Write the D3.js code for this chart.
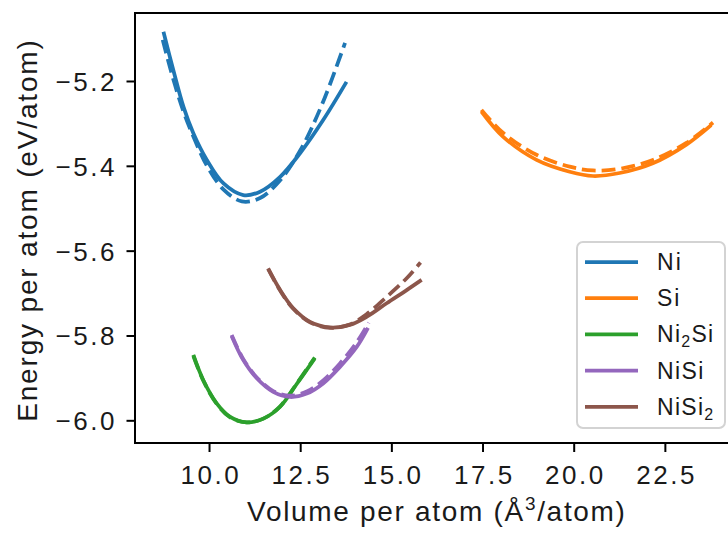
<!DOCTYPE html>
<html>
<head>
<meta charset="utf-8">
<script src="https://cdn.jsdelivr.net/npm/d3@7"></script>
<style>
  html, body { margin: 0; padding: 0; background: #fff; }
  svg { display: block; }
  text { font-family: "Liberation Sans", Arial, sans-serif; fill: #1a1a1a; }
</style>
</head>
<body>
<svg id="chart" width="728" height="533"></svg>
<script>
// ---- Data ----
const materials = ["Ni", "Si", "Ni2Si", "NiSi", "NiSi2"];
const colors = ["#1f77b4", "#ff7f0e", "#2ca02c", "#9467bd", "#8c564b"];

// solid curves
const niV   = [8.75, 9.02, 9.30, 9.57, 9.94, 10.39, 10.94, 11.40, 11.95, 12.49, 13.13, 13.77];
const niE   = [-5.084, -5.174, -5.261, -5.323, -5.386, -5.441, -5.469, -5.461, -5.426, -5.371, -5.292, -5.202];
const siV   = [17.47, 18.06, 18.98, 19.89, 20.53, 21.26, 22.17, 23.09, 23.77];
const siE   = [-5.272, -5.331, -5.386, -5.414, -5.424, -5.417, -5.394, -5.350, -5.304];
const ni2siV = [9.57, 9.84, 10.21, 10.58, 11.03, 11.49, 11.95, 12.40, 12.90];
const ni2siE = [-5.846, -5.905, -5.960, -5.992, -6.005, -5.996, -5.968, -5.915, -5.854];
const nisiV = [10.62, 10.94, 11.31, 11.76, 12.22, 12.68, 13.13, 13.59, 14.05, 14.36];
const nisiE = [-5.801, -5.858, -5.901, -5.933, -5.945, -5.937, -5.913, -5.874, -5.827, -5.782];
const nisi2V = [11.62, 11.95, 12.31, 12.77, 13.32, 13.86, 14.32, 14.87, 15.42, 15.83];
const nisi2E = [-5.642, -5.693, -5.736, -5.768, -5.781, -5.775, -5.756, -5.724, -5.693, -5.669];

// dashed curves
const niVd   = [8.73, 9.0, 9.3, 9.6, 9.95, 10.4, 10.9, 11.4, 11.95, 12.5, 13.1, 13.73];
const niEd   = [-5.103, -5.19, -5.272, -5.337, -5.401, -5.456, -5.484, -5.476, -5.434, -5.364, -5.255, -5.110];
const siVd   = [17.47, 18.06, 18.98, 19.89, 20.53, 21.26, 22.17, 23.09, 23.82];
const siEd   = [-5.268, -5.322, -5.374, -5.402, -5.411, -5.407, -5.386, -5.346, -5.298];
const ni2siVd = [9.57, 9.84, 10.21, 10.58, 11.03, 11.49, 11.95, 12.40, 12.90];
const ni2siEd = [-5.848, -5.906, -5.961, -5.993, -6.005, -5.996, -5.967, -5.914, -5.852];
const nisiVd = [10.62, 10.94, 11.31, 11.76, 12.22, 12.68, 13.13, 13.59, 14.05, 14.38];
const nisiEd = [-5.799, -5.856, -5.899, -5.931, -5.942, -5.932, -5.906, -5.866, -5.816, -5.770];
const nisi2Vd = [11.62, 11.95, 12.31, 12.77, 13.32, 13.86, 14.32, 14.87, 15.42, 15.80];
const nisi2Ed = [-5.643, -5.694, -5.737, -5.769, -5.782, -5.774, -5.750, -5.709, -5.665, -5.628];

const xTicks = [10.0, 12.5, 15.0, 17.5, 20.0, 22.5];
const yTicks = [-6.0, -5.8, -5.6, -5.4, -5.2];
const xDomain = [7.97, 24.67];
const yDomain = [-6.0535, -5.0397];

// ---- Layout ----
const svg = d3.select("#chart");
const padL = 135, padR = 744, padT = 13, padB = 443;
const WIDEN = 1.15; // reference text is tracked wider than Arial metrics

function widen(sel, f) {
  sel.each(function () {
    const L = this.getComputedTextLength();
    d3.select(this).attr("textLength", L * f).attr("lengthAdjust", "spacing");
  });
}

const x = d3.scaleLinear().domain(xDomain).range([padL, padR]);
const y = d3.scaleLinear().domain(yDomain).range([padB, padT]);

const solid = [[niV, niE], [siV, siE], [ni2siV, ni2siE], [nisiV, nisiE], [nisi2V, nisi2E]];
const dashed = [[niVd, niEd], [siVd, siEd], [ni2siVd, ni2siEd], [nisiVd, nisiEd], [nisi2Vd, nisi2Ed]];

const line = d3.line()
  .x(d => x(d[0])).y(d => y(d[1]))
  .curve(d3.curveCatmullRom.alpha(0.5));

const plot = svg.append("g");
materials.forEach((m, i) => {
  const s = d3.zip(solid[i][0], solid[i][1]);
  const dd = d3.zip(dashed[i][0], dashed[i][1]);
  plot.append("path").attr("d", line(s))
    .attr("fill", "none").attr("stroke", colors[i])
    .attr("stroke-width", 3.75).attr("stroke-linecap", "butt").attr("stroke-linejoin", "round");
  plot.append("path").attr("d", line(dd))
    .attr("fill", "none").attr("stroke", colors[i])
    .attr("stroke-width", 3.75).attr("stroke-dasharray", "13.9,6")
    .attr("stroke-linecap", "butt").attr("stroke-linejoin", "round");
});

// ---- Axes ----
const fmt = d3.format(".1f");
const xAxis = svg.append("g").attr("transform", `translate(0,${padB})`)
  .call(d3.axisBottom(x).tickValues(xTicks).tickFormat(fmt).tickSize(9).tickSizeOuter(0).tickPadding(14));
const yAxis = svg.append("g").attr("transform", `translate(${padL},0)`)
  .call(d3.axisLeft(y).tickValues(yTicks).tickFormat(fmt).tickSize(8.5).tickSizeOuter(0).tickPadding(12));

[xAxis, yAxis].forEach(a => {
  a.select(".domain").remove();
  a.selectAll(".tick line").attr("stroke", "#000").attr("stroke-width", 2);
  a.selectAll(".tick text")
    .style("font-family", '"Liberation Sans", Arial, sans-serif')
    .style("font-size", "26px").attr("fill", "#1a1a1a");
  widen(a.selectAll(".tick text"), WIDEN);
});
yAxis.selectAll(".tick text").attr("dy", "0.36em");

// spines
svg.append("rect")
  .attr("x", padL).attr("y", padT)
  .attr("width", padR - padL).attr("height", padB - padT)
  .attr("fill", "none").attr("stroke", "#000").attr("stroke-width", 2);

// axis labels
const xl = svg.append("text")
  .attr("x", 436).attr("y", 521)
  .attr("text-anchor", "middle").style("font-size", "28px");
xl.append("tspan").text("Volume per atom (Å");
xl.append("tspan").attr("dy", -11).style("font-size", "19px").text("3");
xl.append("tspan").attr("dy", 11).text("/atom)");
widen(xl, 1.12);

const yl = svg.append("text")
  .attr("transform", `translate(37,${(padT + padB) / 2 + 3}) rotate(-90)`)
  .attr("text-anchor", "middle").style("font-size", "28px")
  .text("Energy per atom (eV/atom)");
widen(yl, 1.13);

// ---- Legend ----
const legendNames = [["Ni"], ["Si"], ["Ni", "2", "Si"], ["NiSi"], ["NiSi", "2"]];
const lg = svg.append("g");
lg.append("rect")
  .attr("x", 577).attr("y", 242).attr("width", 148).attr("height", 186)
  .attr("rx", 6).attr("fill", "#fff").attr("fill-opacity", 0.8)
  .attr("stroke", "#d3d3d3").attr("stroke-width", 2);
materials.forEach((m, i) => {
  const cy = 262 + i * 36.2;
  lg.append("line").attr("x1", 585).attr("x2", 638).attr("y1", cy).attr("y2", cy)
    .attr("stroke", colors[i]).attr("stroke-width", 3.75);
  const t = lg.append("text").attr("x", 657).attr("y", cy + 8).style("font-size", "23px");
  const parts = legendNames[i];
  parts.forEach((p, j) => {
    const isSub = (p === "2");
    const ts = t.append("tspan").text(p);
    if (isSub) ts.attr("dy", 5).style("font-size", "16px");
    else if (j > 0 && parts[j - 1] === "2") ts.attr("dy", -5);
  });
  widen(t, 1.1);
});
</script>
</body>
</html>
